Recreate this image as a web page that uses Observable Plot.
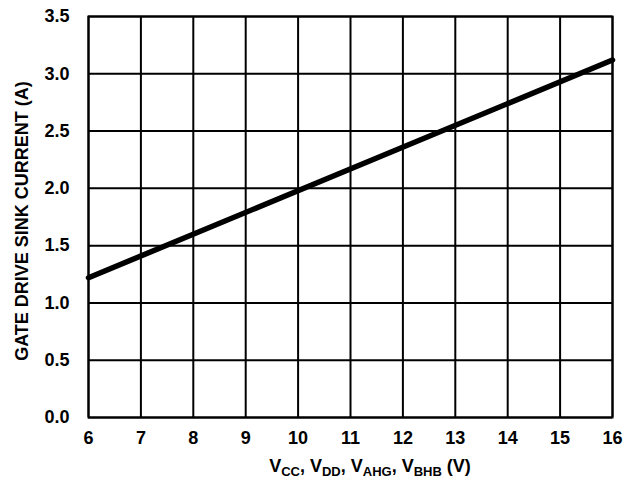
<!DOCTYPE html>
<html>
<head>
<meta charset="utf-8">
<script src="https://cdn.jsdelivr.net/npm/d3@7"></script>
<script src="https://cdn.jsdelivr.net/npm/@observablehq/plot@0.6"></script>
<style>
  html, body { margin: 0; padding: 0; background: #fff; }
</style>
</head>
<body>
<div id="chart"></div>
<script>
const vSupply = [6, 16];
const sinkCurrent = [1.22, 3.12];
const xTicks = [6, 7, 8, 9, 10, 11, 12, 13, 14, 15, 16];
const yTicks = [0, 0.5, 1.0, 1.5, 2.0, 2.5, 3.0, 3.5];
const yLabel = "GATE DRIVE SINK CURRENT (A)";
const xLabelParts = [["V", false], ["CC", true], [", V", false], ["DD", true], [", V", false], ["AHG", true], [", V", false], ["BHB", true], [" (V)", false]];

const data = vSupply.map((v, i) => ({v, a: sinkCurrent[i]}));
const font = "'Liberation Sans', Arial, sans-serif";

const chart = Plot.plot({
  width: 628,
  height: 480,
  marginLeft: 88,
  marginRight: 16,
  marginTop: 16,
  marginBottom: 63,
  style: {fontFamily: font, fontWeight: "bold", fontSize: "18px", color: "#000", background: "#fff"},
  x: {domain: [6, 16], label: null, axis: null},
  y: {domain: [0, 3.5], label: null, axis: null},
  marks: [
    Plot.gridX(xTicks, {stroke: "#000", strokeOpacity: 1, strokeWidth: 2}),
    Plot.gridY(yTicks, {stroke: "#000", strokeOpacity: 1, strokeWidth: 2}),
    Plot.frame({stroke: "#000", strokeWidth: 2}),
    Plot.text(xTicks, {x: d => d, y: 0, text: d => String(d), lineAnchor: "middle", dy: 21, fontSize: 18, fontWeight: "bold", fill: "#000"}),
    Plot.text(yTicks, {x: 6, y: d => d, text: d => d3.format(".1f")(d), textAnchor: "end", lineAnchor: "middle", dx: -19, fontSize: 18, fontWeight: "bold", fill: "#000"}),
    Plot.line(data, {x: "v", y: "a", stroke: "#000", strokeWidth: 5.5}),
    Plot.text([yLabel], {frameAnchor: "left", textAnchor: "middle", dx: -66, dy: 4, rotate: -90, fontSize: 18, fontWeight: "bold", fill: "#000"})
  ]
});

document.getElementById("chart").appendChild(chart);

const svg = d3.select(chart);
const t = svg.append("text")
  .attr("x", 370)
  .attr("y", 472)
  .attr("text-anchor", "middle")
  .attr("font-family", font)
  .attr("font-weight", "bold")
  .attr("font-size", 18)
  .attr("fill", "#000");
xLabelParts.forEach(([s, sub], i) => {
  const prevSub = i > 0 && xLabelParts[i - 1][1];
  const ts = t.append("tspan").text(s);
  if (sub) ts.attr("font-size", 13).attr("dy", 4);
  else ts.attr("dy", prevSub ? -4 : 0);
});
</script>
</body>
</html>
